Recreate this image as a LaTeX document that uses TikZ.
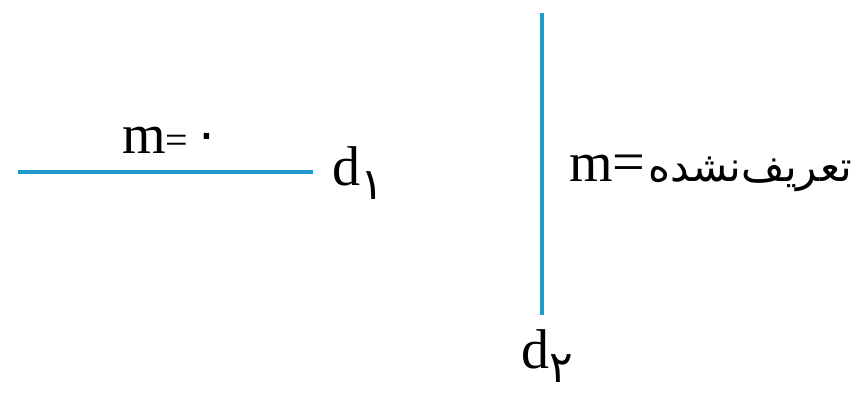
\documentclass[tikz,border=0pt]{standalone}
\usepackage{fontspec}
\setmainfont{Liberation Serif}
\TeXXeTstate=1
\newfontfamily\arabicfont[Script=Arabic]{DejaVu Sans}
\definecolor{linec}{RGB}{30,155,200}
\tikzset{
  ln/.style={line width=4pt, linec},
  lbl/.style={inner sep=0pt, font=\fontsize{56}{60}\selectfont},
}
\newcommand{\pdig}[1]{{\arabicfont\fontsize{44}{48}\selectfont #1}}
\begin{document}
\begin{tikzpicture}[x=1pt,y=-1pt]
\useasboundingbox (0,0) rectangle (857,396);
\coordinate (h1) at (18,172);
\coordinate (h2) at (313,172);
\coordinate (v1) at (542,13);
\coordinate (v2) at (542,315);
\draw[ln] (h1) -- (h2);
\draw[ln] (v1) -- (v2);
\node[lbl, anchor=base west] (m0) at (122,153) {m{\fontsize{40}{40}\selectfont =}\hspace{5pt}{\arabicfont\fontsize{50}{50}\selectfont\raisebox{2pt}{۰}}};
\node[lbl, anchor=base west] (d1) at (332,185) {d\raisebox{-14pt}{\pdig{۱}}};
\node[lbl, anchor=base west] (d2) at (521,368) {d\raisebox{-14pt}{\pdig{۲}}};
\node[lbl, anchor=base west] (mu) at (569,181) {m{\fontsize{58}{60}\selectfont =}\hspace{3pt}{\arabicfont\fontsize{42}{44}\selectfont\beginR تعریف‌نشده\endR}};
\end{tikzpicture}
\end{document}
